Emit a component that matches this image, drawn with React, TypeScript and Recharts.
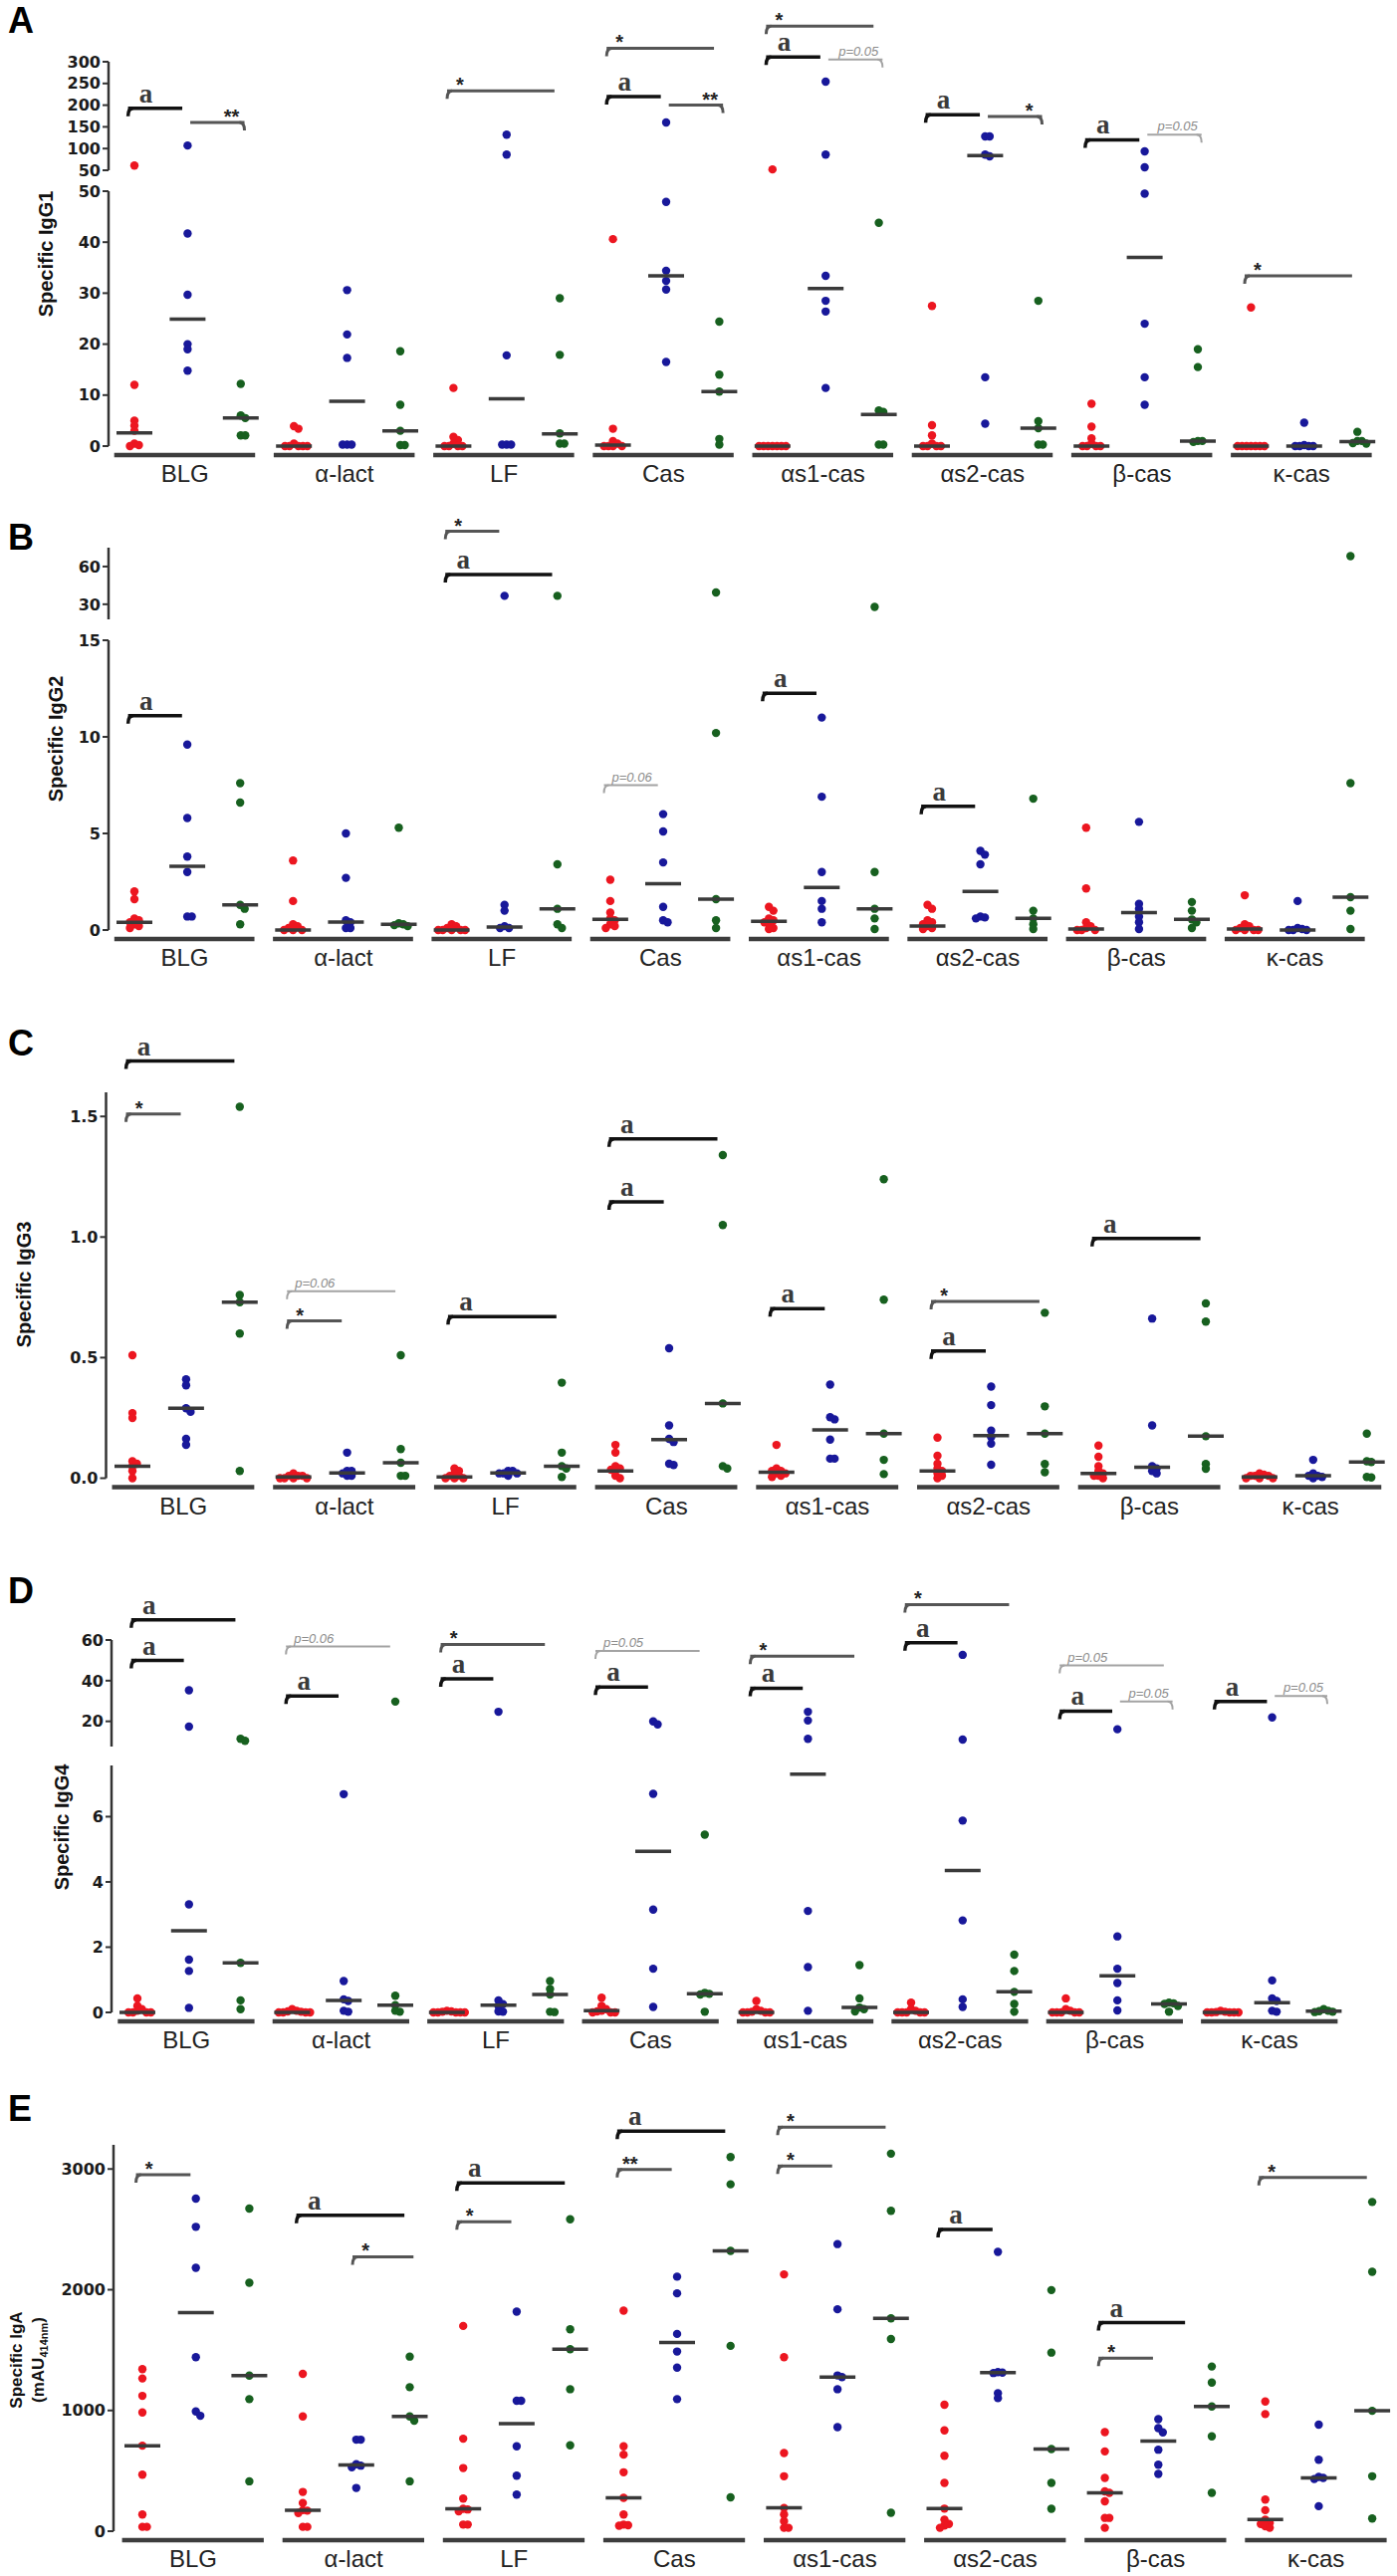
import React from 'react';
import { ScatterChart, Scatter, XAxis, YAxis, ReferenceLine } from 'recharts';

const categories = ['BLG', 'α-lact', 'LF', 'Cas', 'αs1-cas', 'αs2-cas', 'β-cas', 'κ-cas'];

// [group, fromColumn, toColumn, y, label, hook side]
type Bracket = [number, number, number, number, string, 'L' | 'R'];

// ---------- A: specific IgG1 ----------
const igg1Red = [
  [61, 12, 5, 4, 3, 0.5, 0.2, 0], [3.9, 3.4, 0.5, 0, 0, 0, 0, 0], [11.4, 1.8, 1.2, 0.5, 0, 0, 0, 0],
  [40.6, 3.4, 1, 0.5, 0, 0, 0, 0], [52, 0, 0, 0, 0, 0, 0, 0], [27.5, 4.1, 2.1, 0.5, 0, 0, 0, 0],
  [8.3, 3.8, 1.5, 0.5, 0, 0, 0, 0], [27.2, 0, 0, 0, 0, 0, 0, 0],
];
const igg1Blue = [
  [107, 41.7, 29.7, 20, 19, 14.8], [30.6, 21.9, 17.3, 0.3, 0.3, 0.3], [132, 86, 17.8, 0.3, 0.3, 0.3],
  [160, 47.9, 34.4, 32.4, 30.7, 16.5], [254, 86, 33.4, 28.5, 26.4, 11.4], [128, 128, 86, 82, 13.5, 4.4],
  [93.6, 57, 49.5, 24, 13.5, 8.1], [4.6, 0.2, 0, 0, 0, 0],
];
const igg1Green = [
  [12.2, 6, 5.5, 2.1, 2.1], [18.6, 8.1, 3, 0.2, 0.2], [29, 17.9, 2.5, 0.5, 0.5], [24.4, 14, 10.7, 1.4, 0.3],
  [43.8, 7, 6.7, 0.3, 0.3], [28.5, 4.9, 3.5, 0.3, 0.3], [19, 15.5, 1, 1, 0.8], [2.8, 1, 1, 0.6, 0.5],
];
const igg1Medians = [
  [2.6, 24.9, 5.5], [0, 8.8, 3], [0, 9.3, 2.4], [0.2, 33.4, 10.7],
  [0, 30.9, 6.2], [0, 84, 3.5], [0, 37, 1], [0, 0, 0.9],
];
const igg1Brackets: Bracket[] = [
  [0, 0, 1, 193, 'a', 'L'], [0, 1, 2, 160, '**', 'R'], [2, 0, 2, 233, '*', 'L'],
  [3, 0, 2, 331, '*', 'L'], [3, 0, 1, 220, 'a', 'L'], [3, 1, 2, 200, '**', 'R'],
  [4, 0, 2, 382, '*', 'L'], [4, 0, 1, 311, 'a', 'L'], [4, 1, 2, 305, 'p=0.05', 'R'],
  [5, 0, 1, 178, 'a', 'L'], [5, 1, 2, 174, '*', 'R'], [6, 0, 1, 120, 'a', 'L'],
  [6, 1, 2, 132, 'p=0.05', 'R'], [7, 0, 2, 33.4, '*', 'L'],
];

// ---------- B: specific IgG2 ----------
const igg2Red = [
  [2.0, 1.6, 0.6, 0.5, 0.4, 0.3, 0.2, 0.1], [3.6, 1.5, 0.3, 0.2, 0.1, 0, 0, 0], [0.3, 0.2, 0.1, 0, 0, 0, 0, 0],
  [2.6, 1.5, 0.9, 0.6, 0.5, 0.3, 0.2, 0.1], [1.2, 1.0, 0.6, 0.5, 0.4, 0.3, 0.1, 0.05],
  [1.3, 1.1, 0.5, 0.4, 0.3, 0.2, 0.1, 0.05], [5.3, 2.15, 0.4, 0.2, 0.1, 0, 0, 0], [1.8, 0.3, 0.2, 0.1, 0, 0, 0, 0],
];
const igg2Blue = [
  [9.6, 5.8, 3.8, 3.0, 0.7, 0.7], [5.0, 2.7, 0.5, 0.4, 0.1, 0.1], [36.7, 1.3, 1.0, 0.2, 0.1, 0.1],
  [6.0, 5.1, 3.5, 1.2, 0.5, 0.4], [11.0, 6.9, 3.0, 1.5, 1.1, 0.4], [4.1, 3.9, 3.4, 0.7, 0.65, 0.6],
  [5.6, 1.35, 1.1, 0.7, 0.4, 0.05], [1.5, 0.1, 0.05, 0, 0, 0],
];
const igg2Green = [
  [7.6, 6.6, 1.3, 1.1, 0.3], [5.3, 0.35, 0.3, 0.25, 0.2], [36.7, 3.4, 1.1, 0.3, 0.1], [39.4, 10.2, 1.6, 0.5, 0.1],
  [27.9, 3.0, 1.1, 0.6, 0.05], [6.8, 1.0, 0.6, 0.3, 0.05], [1.45, 1.0, 0.55, 0.4, 0.1], [68.3, 7.6, 1.7, 1.0, 0.05],
];
const igg2Medians = [
  [0.4, 3.3, 1.3], [0, 0.41, 0.3], [0, 0.15, 1.1], [0.55, 2.4, 1.6],
  [0.45, 2.2, 1.1], [0.2, 2.0, 0.6], [0.05, 0.9, 0.55], [0.05, 0, 1.7],
];
const igg2Brackets: Bracket[] = [
  [0, 0, 1, 11.1, 'a', 'L'], [2, 0, 1, 88, '*', 'L'], [2, 0, 2, 53.6, 'a', 'L'],
  [3, 0, 1, 7.5, 'p=0.06', 'L'], [4, 0, 1, 12.25, 'a', 'L'], [5, 0, 1, 6.4, 'a', 'L'],
];

// ---------- C: specific IgG3 ----------
const igg3Red = [
  [0.51, 0.27, 0.25, 0.07, 0.06, 0.05, 0.03, 0], [0.02, 0.01, 0.01, 0.01, 0, 0, 0, 0],
  [0.04, 0.03, 0.02, 0.01, 0.01, 0, 0, 0], [0.138, 0.106, 0.05, 0.04, 0.035, 0.03, 0.01, 0],
  [0.138, 0.04, 0.03, 0.03, 0.02, 0.02, 0.01, 0.005], [0.168, 0.093, 0.06, 0.04, 0.03, 0.02, 0.01, 0],
  [0.135, 0.089, 0.05, 0.03, 0.02, 0.01, 0.01, 0], [0.02, 0.015, 0.01, 0.01, 0.01, 0, 0, 0],
];
const igg3Blue = [
  [0.41, 0.385, 0.29, 0.275, 0.163, 0.138], [0.106, 0.03, 0.03, 0.02, 0.01, 0.01],
  [0.03, 0.03, 0.02, 0.02, 0.02, 0.01], [0.539, 0.219, 0.163, 0.15, 0.06, 0.055],
  [0.388, 0.253, 0.244, 0.16, 0.081, 0.081], [0.38, 0.303, 0.197, 0.17, 0.143, 0.056],
  [0.662, 0.219, 0.05, 0.04, 0.03, 0.02], [0.076, 0.02, 0.01, 0.01, 0.005, 0],
];
const igg3Green = [
  [1.54, 0.76, 0.73, 0.6, 0.03], [0.51, 0.121, 0.064, 0.01, 0.01], [0.396, 0.106, 0.05, 0.04, 0.005],
  [1.34, 1.05, 0.31, 0.05, 0.04], [1.24, 0.74, 0.185, 0.076, 0.017], [0.686, 0.298, 0.185, 0.059, 0.025],
  [0.725, 0.649, 0.174, 0.059, 0.039], [0.185, 0.07, 0.067, 0.005, 0.003],
];
const igg3Medians = [
  [0.05, 0.29, 0.73], [0.005, 0.022, 0.064], [0.005, 0.022, 0.05], [0.03, 0.16, 0.31],
  [0.025, 0.2, 0.185], [0.03, 0.177, 0.185], [0.02, 0.045, 0.174], [0.005, 0.01, 0.067],
];
const igg3Brackets: Bracket[] = [
  [0, 0, 2, 1.73, 'a', 'L'], [0, 0, 1, 1.51, '*', 'L'], [1, 0, 1, 0.652, '*', 'L'],
  [1, 0, 2, 0.775, 'p=0.06', 'L'], [2, 0, 2, 0.67, 'a', 'L'], [3, 0, 2, 1.407, 'a', 'L'],
  [3, 0, 1, 1.146, 'a', 'L'], [4, 0, 1, 0.703, 'a', 'L'], [5, 0, 2, 0.733, '*', 'L'],
  [5, 0, 1, 0.528, 'a', 'L'], [6, 0, 2, 0.994, 'a', 'L'],
];

// ---------- D: specific IgG4 ----------
const igg4Red = [
  [0.43, 0.2, 0.1, 0.05, 0, 0, 0, 0], [0.1, 0.05, 0.03, 0.02, 0, 0, 0, 0], [0.05, 0.03, 0.02, 0, 0, 0, 0, 0],
  [0.45, 0.2, 0.1, 0.05, 0.03, 0, 0, 0], [0.35, 0.1, 0.05, 0.02, 0, 0, 0, 0], [0.3, 0.1, 0.05, 0, 0, 0, 0, 0],
  [0.43, 0.1, 0.05, 0, 0, 0, 0, 0], [0.05, 0.02, 0.01, 0, 0, 0, 0, 0],
];
const igg4Blue = [
  [35.3, 17.4, 3.31, 1.62, 1.27, 0.14], [6.69, 0.96, 0.4, 0.35, 0.05, 0.02], [24.7, 0.37, 0.25, 0.2, 0.03, 0.02],
  [20, 18.5, 6.7, 3.15, 1.34, 0.17], [24.7, 20.4, 11.4, 3.11, 1.39, 0.05], [52.7, 11.0, 5.88, 2.82, 0.4, 0.17],
  [16.1, 2.33, 1.34, 0.9, 0.37, 0.06], [21.9, 0.98, 0.43, 0.35, 0.05, 0.02],
];
const igg4Green = [
  [11.4, 10.4, 1.52, 0.37, 0.1], [29.7, 0.51, 0.22, 0.05, 0.02], [0.96, 0.72, 0.55, 0.02, 0.01],
  [5.45, 0.6, 0.57, 0.55, 0.02], [1.45, 0.43, 0.15, 0.1, 0.03], [1.77, 1.27, 0.63, 0.26, 0.02],
  [0.3, 0.28, 0.26, 0.2, 0.02], [0.1, 0.05, 0.04, 0.02, 0.01],
];
const igg4Medians = [
  [0, 2.5, 1.52], [0, 0.37, 0.22], [0, 0.22, 0.55], [0.05, 4.94, 0.57],
  [0, 7.3, 0.15], [0, 4.35, 0.63], [0, 1.12, 0.26], [0, 0.3, 0.04],
];
const igg4Brackets: Bracket[] = [
  [0, 0, 2, 69.9, 'a', 'L'], [0, 0, 1, 49.9, 'a', 'L'], [1, 0, 2, 56.8, 'p=0.06', 'L'],
  [1, 0, 1, 32.5, 'a', 'L'], [2, 0, 2, 57.8, '*', 'L'], [2, 0, 1, 40.9, 'a', 'L'],
  [3, 0, 2, 54.6, 'p=0.05', 'L'], [3, 0, 1, 36.8, 'a', 'L'], [4, 0, 2, 52.1, '*', 'L'],
  [4, 0, 1, 36.3, 'a', 'L'], [5, 0, 2, 77.4, '*', 'L'], [5, 0, 1, 58.7, 'a', 'L'],
  [6, 0, 2, 47.5, 'p=0.05', 'L'], [6, 0, 1, 25, 'a', 'L'], [6, 1, 2, 29.7, 'p=0.05', 'R'],
  [7, 0, 1, 29.7, 'a', 'L'], [7, 1, 2, 32.5, 'p=0.05', 'R'],
];

// ---------- E: specific IgA ----------
const igaRed = [
  [1342, 1265, 1121, 984, 708, 468, 138, 36, 36], [1303, 950, 325, 234, 174, 170, 150, 36, 36],
  [1700, 766, 523, 270, 185, 180, 165, 55, 55], [1827, 703, 634, 488, 276, 138, 55, 50, 45],
  [2127, 1441, 647, 455, 193, 138, 83, 28, 28], [1047, 835, 625, 400, 187, 96, 60, 47, 28],
  [821, 661, 441, 330, 317, 248, 110, 110, 28], [1074, 970, 262, 174, 96, 69, 60, 40, 28],
];
const igaBlue = [
  [2755, 2521, 2182, 1441, 992, 956], [758, 758, 555, 543, 530, 358], [1818, 1080, 1080, 703, 460, 303],
  [2108, 1970, 1634, 1488, 1355, 1094], [2378, 1838, 1290, 1276, 1176, 862], [2314, 1318, 1314, 1310, 1143, 1102],
  [928, 854, 818, 675, 551, 474], [882, 592, 450, 441, 432, 207],
];
const igaGreen = [
  [2672, 2058, 1289, 1094, 413], [1446, 1193, 950, 915, 413], [2584, 1672, 1507, 1176, 711],
  [3099, 2873, 2322, 1535, 281], [3127, 2653, 1763, 1592, 152], [1997, 1479, 680, 400, 185],
  [1364, 1231, 1033, 785, 317], [2727, 2149, 997, 455, 105],
];
const igaMedians = [
  [708, 1810, 1289], [174, 549, 950], [185, 891, 1507], [276, 1562, 2322],
  [193, 1276, 1763], [187, 1314, 680], [317, 746, 1033], [96, 441, 997],
];
const igaBrackets: Bracket[] = [
  [0, 0, 1, 2953, '*', 'L'], [1, 0, 2, 2617, 'a', 'L'], [1, 1, 2, 2273, '*', 'L'],
  [2, 0, 2, 2884, 'a', 'L'], [2, 0, 1, 2562, '*', 'L'], [3, 0, 2, 3314, 'a', 'L'],
  [3, 0, 1, 2995, '**', 'L'], [4, 0, 2, 3347, '*', 'L'], [4, 0, 1, 3025, '*', 'L'],
  [5, 0, 1, 2499, 'a', 'L'], [6, 0, 1.6, 1727, 'a', 'L'], [6, 0, 1, 1433, '*', 'L'],
  [7, 0, 2, 2929, '*', 'L'],
];

const FONT = "'Liberation Sans', Arial, Helvetica, sans-serif";
const TICK_FONT = "'DejaVu Sans', Arial, sans-serif";
const SERIF = "'Liberation Serif', 'Times New Roman', serif";
const RED = '#ec1620';
const BLUE = '#18189a';
const GREEN = '#17601f';
const AXIS = '#333';

type Segment = { lo: number; hi: number; top: number; bottom: number; ticks: number[] };

const panels = [
  {
    letter: 'A', letterTop: 3, title: 'Specific IgG1', titleX: 46, titleY: 255,
    axisX: 109, x0: 135, u: 53.4, xMax: 23.5, decimals: 0,
    segments: [
      { lo: 50, hi: 300, top: 62, bottom: 171, ticks: [50, 100, 150, 200, 250, 300] },
      { lo: 0, hi: 50, top: 192, bottom: 448, ticks: [0, 10, 20, 30, 40, 50] },
    ],
    red: igg1Red, blue: igg1Blue, green: igg1Green, medians: igg1Medians, brackets: igg1Brackets,
  },
  {
    letter: 'B', letterTop: 522, title: 'Specific IgG2', titleX: 56, titleY: 742,
    axisX: 109, x0: 135, u: 53.1, xMax: 23.5, decimals: 0,
    segments: [
      { lo: 18, hi: 75, top: 550, bottom: 622, ticks: [30, 60] },
      { lo: 0, hi: 15, top: 643, bottom: 934, ticks: [0, 5, 10, 15] },
    ],
    red: igg2Red, blue: igg2Blue, green: igg2Green, medians: igg2Medians, brackets: igg2Brackets,
  },
  {
    letter: 'C', letterTop: 1030, title: 'Specific IgG3', titleX: 24, titleY: 1290,
    axisX: 106.5, x0: 133, u: 53.9, xMax: 23.5, decimals: 1,
    segments: [{ lo: 0, hi: 1.6, top: 1097, bottom: 1484.5, ticks: [0, 0.5, 1, 1.5] }],
    red: igg3Red, blue: igg3Blue, green: igg3Green, medians: igg3Medians, brackets: igg3Brackets,
  },
  {
    letter: 'D', letterTop: 1580, title: 'Specific IgG4', titleX: 62, titleY: 1835,
    axisX: 112, x0: 138, u: 51.8, xMax: 23.5, decimals: 0,
    segments: [
      { lo: 7.6, hi: 60, top: 1647, bottom: 1754, ticks: [20, 40, 60] },
      { lo: 0, hi: 7.57, top: 1773, bottom: 2021, ticks: [0, 2, 4, 6] },
    ],
    red: igg4Red, blue: igg4Blue, green: igg4Green, medians: igg4Medians, brackets: igg4Brackets,
  },
  {
    letter: 'E', letterTop: 2100, title: 'Specific IgA', titleX: 16, titleY: 2370,
    axisX: 114, x0: 143, u: 53.7, xMax: 23.45, decimals: 0,
    segments: [{ lo: 0, hi: 3200, top: 2154, bottom: 2542, ticks: [0, 1000, 2000, 3000] }],
    red: igaRed, blue: igaBlue, green: igaGreen, medians: igaMedians, brackets: igaBrackets,
  },
];

type Panel = (typeof panels)[number];

function segmentIndex(segs: Segment[], v: number) {
  for (let i = segs.length - 1; i >= 0; i--) if (v <= segs[i].hi) return i;
  return 0;
}

function valueToPx(segs: Segment[], v: number) {
  const s = segs[segmentIndex(segs, v)];
  return s.bottom - ((v - s.lo) / (s.hi - s.lo)) * (s.bottom - s.top);
}

// simple beeswarm: nudge overlapping dots sideways
const STEP = 4.5;
function swarm(panel: Panel, values: number[], col: number) {
  const placed: { dx: number; py: number }[] = [];
  const out: { x: number; y: number }[] = [];
  [...values].sort((a, b) => b - a).forEach((v) => {
    const py = valueToPx(panel.segments, v);
    let dx = 0;
    for (let k = 0; k < 30; k++) {
      const c = k === 0 ? 0 : (k % 2 ? 1 : -1) * Math.ceil(k / 2) * STEP;
      if (placed.every((p) => Math.hypot(p.dx - c, p.py - py) >= STEP - 0.1)) { dx = c; break; }
    }
    placed.push({ dx, py });
    out.push({ x: col + dx / panel.u, y: v });
  });
  return out;
}

function buildSegmentData(panel: Panel) {
  const segs = panel.segments.map(() => ({ red: [] as any[], blue: [] as any[], green: [] as any[], medians: [] as any[], brackets: [] as Bracket[] }));
  categories.forEach((_, g) => {
    const groups: ['red' | 'blue' | 'green', number[][]][] = [['red', panel.red], ['blue', panel.blue], ['green', panel.green]];
    groups.forEach(([key, arr], c) => {
      swarm(panel, arr[g], 3 * g + c).forEach((p) => {
        segs[segmentIndex(panel.segments, p.y)][key].push(p);
      });
      const m = panel.medians[g][c];
      segs[segmentIndex(panel.segments, m)].medians.push({ x: 3 * g + c, y: m });
    });
  });
  panel.brackets.forEach((b) => segs[segmentIndex(panel.segments, b[3])].brackets.push(b));
  return segs;
}

const dot = (color: string) => (p: any) => <circle cx={p.cx} cy={p.cy} r={4.2} fill={color} />;
const medianShape = (p: any) => (
  <line x1={p.cx - 18} x2={p.cx + 18} y1={p.cy} y2={p.cy} stroke="#3a3a3a" strokeWidth={3.5} />
);

function bracketStyle(label: string) {
  if (label === 'a') return { color: '#111', w: 3.5 };
  if (label.startsWith('p')) return { color: '#a3a3a3', w: 2 };
  return { color: '#555', w: 3 };
}

const bracketLabel = (b: Bracket) => (props: any) => {
  const vb = props.viewBox || {};
  const x = vb.x || 0, y = vb.y || 0, width = vb.width || 0;
  const [, , , , label, hook] = b;
  const st = bracketStyle(label);
  const hx = hook === 'L' ? x : x + width;
  const dir = hook === 'L' ? 1 : -1;
  let text;
  if (label.startsWith('p')) {
    text = (
      <text x={hook === 'L' ? x + 8 : x + width - 4} y={y - 4} textAnchor={hook === 'L' ? 'start' : 'end'}
        fontFamily={FONT} fontStyle="italic" fontSize={13} fill="#8c8c8c">{label}</text>
    );
  } else if (label === 'a') {
    text = (
      <text x={hx + dir * 18} y={y - 6} textAnchor="middle" fontFamily={SERIF} fontWeight="bold"
        fontSize={27} fill="#3a3a3a">a</text>
    );
  } else {
    text = (
      <text x={hx + dir * 13} y={y + 1} textAnchor="middle" fontFamily={FONT} fontWeight="bold"
        fontSize={20} fill="#222">{label}</text>
    );
  }
  return (
    <g>
      <path d={`M${hx},${y + 8} Q${hx},${y} ${hx + dir * 5},${y}`} fill="none" stroke={st.color} strokeWidth={st.w} />
      {text}
    </g>
  );
};

const groupTick = (panel: Panel) => (props: any) => {
  const { x, y, payload } = props;
  const g = Math.round((payload.value - 0.95) / 3);
  return (
    <g>
      <line x1={x - 1.33 * panel.u} x2={x + 1.32 * panel.u} y1={y + 9} y2={y + 9} stroke="#3d3d3d" strokeWidth={4.5} />
      <text x={x} y={y + 36} textAnchor="middle" fontFamily={FONT} fontSize={24} fill="#222">{categories[g]}</text>
    </g>
  );
};

function SegmentChart({ panel, index, data }: { panel: Panel; index: number; data: any }) {
  const seg = panel.segments[index];
  const lowest = index === panel.segments.length - 1;
  const mTop = 90;
  const xAxisH = lowest ? 60 : 0;
  const mBottom = lowest ? 0 : 12;
  const height = seg.bottom - seg.top + mTop + mBottom + xAxisH;
  const xMin = -(panel.x0 - panel.axisX) / panel.u;
  const plotW = (panel.xMax - xMin) * panel.u;
  const right = Math.max(0, 1403 - panel.axisX - plotW);
  return (
    <div style={{ position: 'absolute', left: 0, top: seg.top - mTop }}>
      <ScatterChart width={1403} height={height} margin={{ top: mTop, right, bottom: mBottom, left: 0 }}>
        <XAxis type="number" dataKey="x" domain={[xMin, panel.xMax]} hide={!lowest} height={xAxisH}
          ticks={categories.map((_, g) => 3 * g + 0.95)} tick={groupTick(panel)} interval={0}
          axisLine={false} tickLine={false} tickSize={0} tickMargin={0} />
        <YAxis type="number" dataKey="y" domain={[seg.lo, seg.hi]} ticks={seg.ticks} interval={0}
          width={panel.axisX} axisLine={{ stroke: AXIS, strokeWidth: 2.5 }} tickLine={{ stroke: AXIS, strokeWidth: 2 }}
          tickSize={6} tickMargin={2} tickFormatter={(v: number) => v.toFixed(panel.decimals)}
          tick={{ fontSize: 16, fontWeight: 700, fill: '#1a1a1a', fontFamily: TICK_FONT }} />
        {data.brackets.map((b: Bracket, i: number) => {
          const [g, from, to, y, label, hook] = b;
          const x1 = 3 * g + from + (from === 0 ? -0.12 : hook === 'L' ? -0.07 : 0.05);
          const x2 = 3 * g + to + (from === 0 ? -0.1 : 0.07);
          const st = bracketStyle(label);
          return (
            <ReferenceLine key={`br${i}`} segment={[{ x: x1, y }, { x: x2, y }]} stroke={st.color}
              strokeWidth={st.w} ifOverflow="visible" label={bracketLabel(b)} />
          );
        })}
        <Scatter data={data.red} shape={dot(RED)} isAnimationActive={false} />
        <Scatter data={data.blue} shape={dot(BLUE)} isAnimationActive={false} />
        <Scatter data={data.green} shape={dot(GREEN)} isAnimationActive={false} />
        <Scatter data={data.medians} shape={medianShape} isAnimationActive={false} />
      </ScatterChart>
    </div>
  );
}

function PanelView({ panel }: { panel: Panel }) {
  const segData = buildSegmentData(panel);
  const isIga = panel.letter === 'E';
  return (
    <>
      {panel.segments.map((_, i) => (
        <SegmentChart key={i} panel={panel} index={i} data={segData[i]} />
      ))}
      <div style={{ position: 'absolute', left: 8, top: panel.letterTop, fontFamily: FONT, fontWeight: 700, fontSize: 36, lineHeight: '36px', color: '#000' }}>
        {panel.letter}
      </div>
      <div style={{
        position: 'absolute', left: panel.titleX, top: panel.titleY, transform: 'translate(-50%, -50%) rotate(-90deg)',
        whiteSpace: 'nowrap', fontFamily: FONT, fontWeight: 700, fontSize: isIga ? 17 : 20, color: '#111', lineHeight: 1,
      }}>
        {panel.title}
      </div>
      {isIga && (
        <div style={{
          position: 'absolute', left: 40, top: panel.titleY, transform: 'translate(-50%, -50%) rotate(-90deg)',
          whiteSpace: 'nowrap', fontFamily: FONT, fontWeight: 700, fontSize: 17, color: '#111', lineHeight: 1,
        }}>
          (mAU<sub style={{ fontSize: 11 }}>414nm</sub>)
        </div>
      )}
    </>
  );
}

export default function App() {
  return (
    <div style={{ position: 'absolute', left: 0, top: 0, width: 1403, height: 2587, background: '#fff', overflow: 'hidden' }}>
      {panels.map((p) => (
        <PanelView key={p.letter} panel={p} />
      ))}
    </div>
  );
}
